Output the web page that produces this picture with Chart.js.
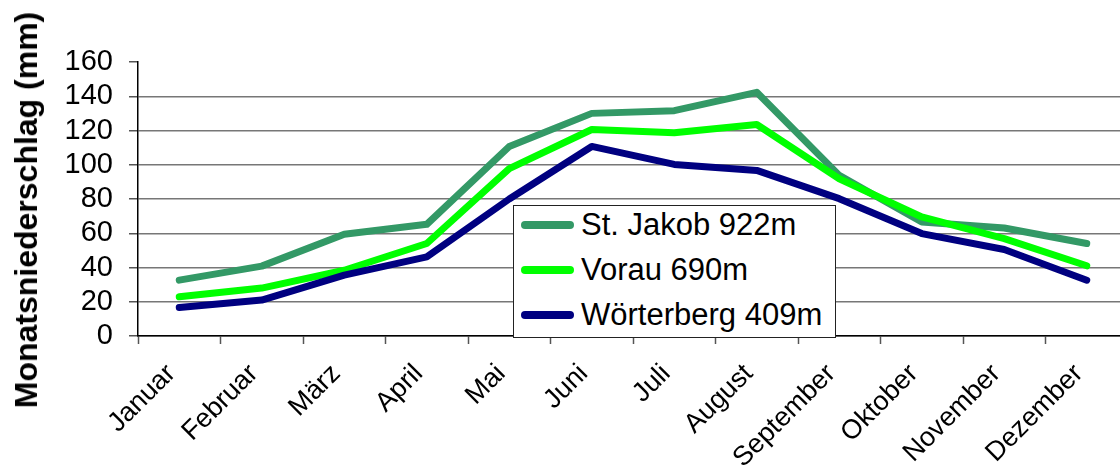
<!DOCTYPE html>
<html>
<head>
<meta charset="utf-8">
<script src="https://cdn.jsdelivr.net/npm/chart.js@4"></script>
<style>
    body { margin: 0; overflow: hidden; background: #fff; }
    #wrap { position: relative; width: 1128px; height: 467px; }
    #yTitle {
        position: absolute; left: 26px; top: 210px;
        transform: translate(-50%, -50%) rotate(-90deg);
        font: bold 32px Arial, "Liberation Sans", sans-serif;
        line-height: 1; white-space: nowrap; color: #000;
    }
    #legend {
        position: absolute; left: 513px; top: 205px;
        width: 321px; height: 131px;
        border: 1px solid #222; background: #fff;
        font: 31px Arial, "Liberation Sans", sans-serif; color: #000;
    }
    .row { position: absolute; left: 7px; height: 40px; display: flex; align-items: center; white-space: nowrap; }
    .swatch { display: inline-block; width: 53px; height: 8px; border-radius: 4px; margin-right: 7px; }
</style>
</head>
<body>
<div id="wrap">
    <canvas id="niederschlag"></canvas>
    <div id="yTitle">Monatsniederschlag (mm)</div>
    <div id="legend"></div>
</div>
<script>
const months = ['Januar', 'Februar', 'März', 'April', 'Mai', 'Juni',
    'Juli', 'August', 'September', 'Oktober', 'November', 'Dezember']

const stJakob = [32.6, 40.8, 59.4, 65.2, 110.7, 130, 131.6, 142.3, 93.8, 66.6, 63.1, 54]
const vorau = [22.9, 28, 38.4, 54, 97.7, 120.6, 118.7, 123.5, 91.8, 69.5, 56.9, 41]
const woerterberg = [16.7, 21, 35.5, 46.2, 80, 110.7, 100.2, 96.7, 80.2, 59.8, 50.5, 32.6]

const seriesNames = ['St. Jakob 922m', 'Vorau 690m', 'Wörterberg 409m']
const seriesColors = ['#339966', '#00ff00', '#000080']

const yMin = 0
const yMax = 160
const yStep = 20

function lineSet(i, values) {
    return {
        label: seriesNames[i],
        data: values,
        borderColor: seriesColors[i],
        backgroundColor: seriesColors[i],
        borderWidth: 7,
        borderCapStyle: 'round',
        borderJoinStyle: 'round',
        pointRadius: 0,
        tension: 0,
        order: 3 - i,
    }
}

const config = {
    type: 'line',
    data: {
        labels: months,
        datasets: [lineSet(0, stJakob), lineSet(1, vorau), lineSet(2, woerterberg)],
    },
    options: {
        responsive: true,
        maintainAspectRatio: false,
        animation: false,
        layout: { padding: { top: 62, left: 0, right: 0, bottom: 0 } },
        plugins: { legend: { display: false }, tooltip: { enabled: false } },
        scales: {
            x: {
                offset: true,
                afterFit: s => { s.height = 131 },
                grid: { offset: true, drawOnChartArea: false, tickLength: 8, tickColor: '#555', tickWidth: 1.5 },
                border: { color: '#000', width: 1.5 },
                ticks: {
                    autoSkip: false, minRotation: 45, maxRotation: 45, padding: 14,
                    labelOffset: -8,
                    color: '#000',
                    font: { family: 'Arial, "Liberation Sans", sans-serif', size: 27 },
                },
            },
            y: {
                min: yMin,
                max: yMax,
                afterFit: s => { s.width = 138 },
                grid: {
                    color: c => (c.tick && c.tick.value === yMax) ? 'rgba(0,0,0,0)' : '#777',
                    lineWidth: 1.5,
                    tickLength: 9,
                    tickColor: '#555',
                    tickWidth: 1.5,
                },
                border: { color: '#000', width: 1.5 },
                ticks: {
                    stepSize: yStep, autoSkip: false, padding: 16, color: '#000',
                    font: { family: 'Arial, "Liberation Sans", sans-serif', size: 29 },
                },
            },
        },
    },
}

const myChart = new Chart(document.getElementById('niederschlag'), config)

// legend box drawn as html, built from the datasets
const legendLoc = document.getElementById('legend')
let legendHTML = ''
myChart.data.datasets.forEach((ds, i) => {
    legendHTML += '<div class="row" style="top:' + (-1 + 45 * i) + 'px">'
        + '<span class="swatch" style="background:' + ds.borderColor + '"></span>'
        + ds.label + '</div>'
})
legendLoc.innerHTML = legendHTML
</script>
</body>
</html>
